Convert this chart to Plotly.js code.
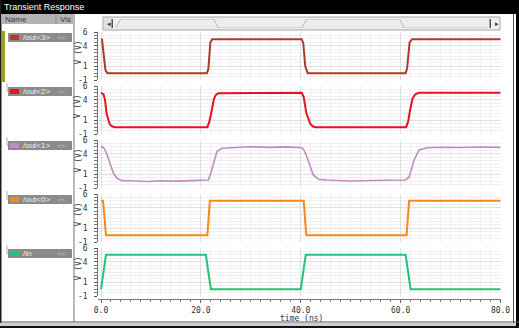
<!DOCTYPE html>
<html>
<head>
<meta charset="utf-8">
<script src="https://cdn.plot.ly/plotly-3.0.1.min.js"></script>
<style>html,body{margin:0;padding:0;background:#fff;}#chart{width:519px;height:328px;}</style>
</head>
<body>
<div id="chart"></div>
<script>
// ---------- data ----------
const signalNames = ['/out<3>', '/out<2>', '/out<1>', '/out<0>', '/in'];

const t_out3 = [0, 0.2, 0.5, 0.9, 1.3, 21.2, 21.5, 21.9, 22.3, 40.2, 40.5, 40.9, 41.4, 61.0, 61.3, 61.8, 62.3, 80];
const v_out3 = [4.9, 4.9, 3.0, 0.4, 0, 0, 0.6, 4.5, 4.95, 4.95, 4.4, 1.0, 0, 0, 0.7, 4.5, 4.95, 4.95];

const t_out2 = [0, 0.5, 0.8, 1.1, 1.5, 1.8, 2.3, 2.8, 21.3, 21.7, 22.2, 22.6, 23.0, 23.5, 40.2, 40.6, 41.1, 41.5, 41.9, 42.4, 42.9, 61.1, 61.5, 61.9, 62.4, 62.9, 63.6, 80];
const v_out2 = [5.0, 4.8, 4.0, 2.1, 1.0, 0.35, 0.1, 0, 0, 0.8, 2.5, 4.1, 4.7, 4.95, 5.0, 4.4, 2.1, 1.2, 0.5, 0.12, 0, 0, 0.8, 2.5, 4.2, 4.75, 5.0, 5.0];

const t_out1 = [0, 0.3, 0.7, 1.1, 1.8, 2.5, 3.2, 4.2, 6, 9.4, 12, 15, 18, 21.5, 22.0, 22.5, 23.2, 24.2, 25.9, 29.9, 33.9, 37.2, 40.2, 40.6, 41.1, 41.9, 42.5, 43.6, 45.2, 49.9, 53, 56.6, 61.0, 61.7, 62.2, 62.7, 63.7, 65.3, 68, 72, 76, 80];
const v_out1 = [5.0, 5.0, 4.7, 4.06, 2.6, 1.14, 0.41, 0.07, 0.05, -0.05, 0.05, 0.0, 0.08, 0.17, 1.2, 2.6, 4.3, 4.79, 4.88, 5.02, 4.93, 5.0, 4.88, 4.6, 3.81, 2.1, 0.9, 0.26, 0.17, 0.02, 0.1, 0.12, 0.17, 0.6, 1.8, 3.08, 4.54, 4.88, 4.95, 4.9, 4.98, 4.92];

const t_out0 = [0, 0.4, 0.7, 1.0, 21.3, 21.5, 21.8, 40.6, 40.8, 41.1, 61.2, 61.4, 61.7, 80];
const v_out0 = [5.0, 5.0, 2.5, 0, 0, 2.5, 5.0, 5.0, 2.5, 0, 0, 2.5, 5.0, 5.0];

const t_in = [0, 1, 21, 22, 40, 41, 61, 62, 80];
const v_in = [0, 5, 5, 0, 0, 5, 5, 0, 0];

const xTickVals = [0, 20, 40, 60, 80];
const xTickText = ['0.0', '20.0', '40.0', '60.0', '80.0'];
const yTickVals = [-1, 1, 4, 6];
const yTickText = ['-1', '1', '4', '6'];

// ---------- styling / layout ----------
const W = 519, H = 328;
const X = px => px / W;
const Y = py => 1 - py / H;

const colors = ['#ad3a2a', '#e3131f', '#c08cc4', '#f28a1a', '#22c277'];
const widths = [2, 2, 1.6, 2, 2];
const series = [[t_out3, v_out3], [t_out2, v_out2], [t_out1, v_out1], [t_out0, v_out0], [t_in, v_in]];
const panelTop = [32, 86, 140, 194, 248];
const panelH = 48;
const mono = 'DejaVu Sans Mono, monospace';
const sans = 'Liberation Sans, Arial, sans-serif';
const pad = '\u00a0';

const traces = [];
const layout = {
  width: W, height: H,
  margin: {l: 0, r: 0, t: 0, b: 0},
  paper_bgcolor: '#ffffff',
  plot_bgcolor: 'rgba(0,0,0,0)',
  showlegend: false,
  shapes: [],
  annotations: []
};

series.forEach((s, i) => {
  const k = i + 1;
  const sfx = k === 1 ? '' : k;
  traces.push({
    x: s[0], y: s[1], type: 'scatter', mode: 'lines',
    xaxis: 'x' + sfx, yaxis: 'y' + sfx,
    line: {color: colors[i], width: widths[i]},
    hoverinfo: 'skip'
  });
  const bottom = k === 5;
  const xa = {
    domain: [X(98), X(501)], range: [-0.6, 80.1],
    anchor: 'y' + sfx,
    tickvals: xTickVals, ticktext: xTickText,
    showticklabels: bottom,
    ticks: bottom ? 'outside' : '', ticklen: 3, tickcolor: '#666',
    showline: bottom, linecolor: '#777', linewidth: 1,
    showgrid: true, gridcolor: '#dedede', gridwidth: 1,
    zeroline: false,
    minor: {dtick: 2, tick0: 0, showgrid: true, gridcolor: '#f0f0f0',
            ticks: bottom ? 'outside' : '', ticklen: 2, tickcolor: '#777'},
    tickfont: {family: mono, size: 8, color: '#333'},
    fixedrange: true
  };
  if (bottom) { xa.anchor = 'free'; xa.position = Y(299); }
  layout['xaxis' + sfx] = xa;
  layout['yaxis' + sfx] = {
    domain: [Y(panelTop[i] + panelH), Y(panelTop[i])],
    range: [-1, 6],
    anchor: 'x' + sfx,
    tickvals: yTickVals, ticktext: yTickText.map(t => t + pad),
    ticks: 'outside', ticklen: 3, tickcolor: '#555',
    showline: true, linecolor: '#777', linewidth: 1,
    showgrid: true, gridcolor: '#e0e0e0',
    zeroline: false,
    minor: {dtick: 0.5, tick0: 0, ticks: 'outside', ticklen: 3, tickcolor: '#777',
            showgrid: true, gridcolor: '#f0f0f0'},
    tickfont: {family: mono, size: 8, color: '#333'},
    fixedrange: true
  };
  // y axis title
  layout.annotations.push({
    text: 'V (V)', x: X(77.5), y: Y(panelTop[i] + 21), xref: 'paper', yref: 'paper',
    textangle: -90, showarrow: false, xanchor: 'center', yanchor: 'middle',
    font: {family: mono, size: 8, color: '#333'}
  });
});

// mini overview in the scrollbar
traces.push({
  x: t_in, y: v_in, type: 'scatter', mode: 'lines', xaxis: 'x6', yaxis: 'y6',
  line: {color: '#d3b3b3', width: 1}, hoverinfo: 'skip'
});
layout.xaxis6 = {domain: [X(116), X(488)], range: [0, 80], visible: false, fixedrange: true, anchor: 'y6'};
layout.yaxis6 = {domain: [Y(28), Y(19)], range: [0, 5], visible: false, fixedrange: true, anchor: 'x6'};

// ---------- window chrome ----------
const rect = (x0, y0, x1, y1, fill, line, layer) => layout.shapes.push({
  type: 'rect', xref: 'paper', yref: 'paper', x0: X(x0), x1: X(x1), y0: Y(y1), y1: Y(y0),
  fillcolor: fill, line: line ? {color: line, width: 1} : {width: 0}, layer: layer || 'below'
});
const vline = (x, y0, y1, color, w) => layout.shapes.push({
  type: 'line', xref: 'paper', yref: 'paper', x0: X(x), x1: X(x), y0: Y(y0), y1: Y(y1),
  line: {color: color, width: w || 1}, layer: 'above'
});
const hline = (x0, x1, y, color, w) => layout.shapes.push({
  type: 'line', xref: 'paper', yref: 'paper', x0: X(x0), x1: X(x1), y0: Y(y), y1: Y(y),
  line: {color: color, width: w || 1}, layer: 'above'
});
const text = (t, x, y, font, xanchor) => layout.annotations.push({
  text: t, x: X(x), y: Y(y), xref: 'paper', yref: 'paper', showarrow: false,
  xanchor: xanchor || 'left', yanchor: 'middle', font: font
});

// title bar
rect(0, 0, 519, 14, '#000000', null, 'above');
text('Transient Response', 2, 7.5, {family: sans, size: 9, color: '#ffffff'});
// left edge
rect(0, 0, 1.5, 328, '#1a1a1a', null, 'above');
// header row
rect(1.5, 14, 73, 24, '#b3b3b3', null, 'above');
vline(56, 14, 24, '#8e8e8e');
text('Name', 3, 19.5, {family: sans, size: 8, color: '#3a3a3a'});
text('Vis', 58, 19.5, {family: sans, size: 8, color: '#3a3a3a'});
// separator between list and plots
rect(73, 14, 75, 322, '#b8b8b8', null, 'above');
// right border
vline(513.5, 14, 328, '#555555', 1);
rect(516, 0, 519, 328, '#000000', null, 'above');
// bottom border
hline(0, 519, 322, '#555555', 1);
rect(0, 323, 516, 326, '#cfcfcf', null, 'above');
rect(0, 326, 519, 328, '#111111', null, 'above');

// olive selection bar
rect(2, 31, 5, 82, '#9c9c22', null, 'above');

// signal list entries
signalNames.forEach((nm, i) => {
  const top = panelTop[i] + 1;
  rect(8, top, 72, top + 9, '#8b8b8b', null, 'above');
  rect(10, top + 2, 19, top + 7, colors[i], null, 'above');
  text(nm, 21, top + 4.8, {family: sans, size: 8, color: '#f2f2f2'});
  text('<>', 68, top + 4.5, {family: sans, size: 6, color: '#d0d0d0'}, 'right');
  if (i > 0) {
    vline(7, top - 4, top + 4.5, '#b5b5b5');
    hline(7, 8, top + 4.5, '#b5b5b5');
  }
});

// scrollbar
rect(103, 17, 500, 30, '#ededed', '#a5a5a5', 'below');
rect(104, 18, 112, 29, '#e2e2e2', null, 'below');
text('◂', 105, 23.5, {family: 'DejaVu Sans', size: 7, color: '#333'});
rect(111.5, 19, 113, 28, '#555555', null, 'above');
rect(489.5, 19, 491, 28, '#555555', null, 'above');
text('▸', 493, 23.5, {family: 'DejaVu Sans', size: 7, color: '#333'});

// x axis title
text('time (ns)', 301, 318, {family: mono, size: 8, color: '#333'}, 'center');

Plotly.newPlot('chart', traces, layout, {staticPlot: true, displayModeBar: false});
</script>
</body>
</html>
